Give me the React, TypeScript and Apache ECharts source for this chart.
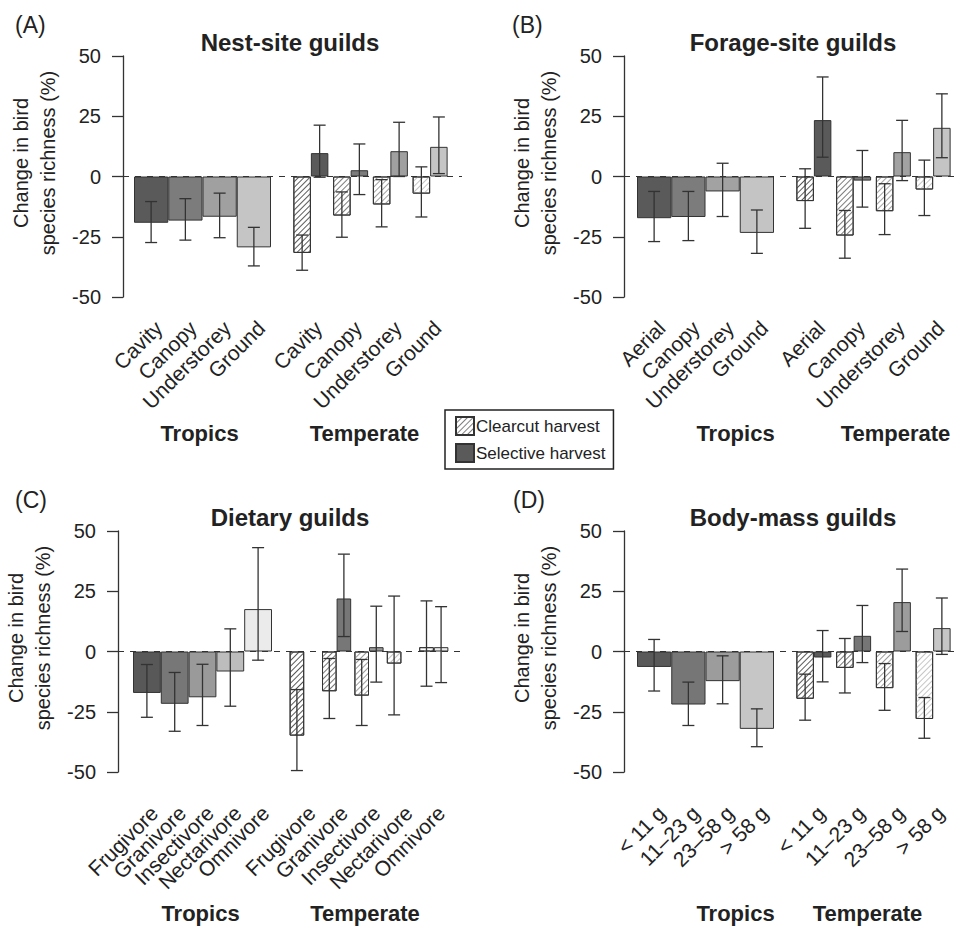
import React, { useEffect, useRef } from 'react';
import * as echarts from 'echarts';

const FONT = '"Liberation Sans", Arial, Helvetica, sans-serif';

// ---------- Data ----------
const yTicks = [-50, -25, 0, 25, 50];
const groupNames = ['Tropics', 'Temperate'];
const legendNames = ['Clearcut harvest', 'Selective harvest'];

// (A) Nest-site guilds
const nestCats = ['Cavity', 'Canopy', 'Understorey', 'Ground'];
const nestColors = ['#5a5a5a', '#7c7c7c', '#a0a0a0', '#c5c5c5'];
const nestTropics = [-19.2, -18.3, -16.7, -29.4];
const nestTropicsLo = [-27.4, -26.4, -25.4, -37.1];
const nestTropicsHi = [-10.4, -9.2, -6.9, -21.1];
const nestClear = [-31.7, -16.2, -11.6, -7.1];
const nestClearLo = [-38.9, -25.2, -20.9, -16.8];
const nestClearHi = [-24.3, -6.4, -1.3, 4.0];
const nestSel = [9.7, 2.6, 10.5, 12.3];
const nestSelLo = [-0.3, -7.5, 0.0, 1.2];
const nestSelHi = [21.3, 13.5, 22.5, 24.7];

// (B) Forage-site guilds
const forageCats = ['Aerial', 'Canopy', 'Understorey', 'Ground'];
const forageColors = ['#5a5a5a', '#7c7c7c', '#a2a2a2', '#c4c4c4'];
const forageTropics = [-17.3, -16.8, -6.2, -23.4];
const forageTropicsLo = [-27.0, -26.6, -16.6, -31.9];
const forageTropicsHi = [-6.2, -6.2, 5.5, -13.9];
const forageClear = [-10.2, -24.5, -14.4, -5.4];
const forageClearLo = [-21.5, -33.9, -24.1, -16.2];
const forageClearHi = [3.2, -14.1, -3.0, 6.8];
const forageSel = [23.4, -1.7, 10.1, 20.2];
const forageSelLo = [8.0, -12.7, -1.7, 7.8];
const forageSelHi = [41.3, 10.8, 23.3, 34.3];

// (C) Dietary guilds
const dietCats = ['Frugivore', 'Granivore', 'Insectivore', 'Nectarivore', 'Omnivore'];
const dietColors = ['#585858', '#777777', '#9a9a9a', '#bdbdbd', '#ebebeb'];
const dietTropics = [-17.2, -21.7, -19.0, -8.3, 17.6];
const dietTropicsLo = [-27.3, -33.1, -30.7, -22.7, -3.6];
const dietTropicsHi = [-5.4, -8.7, -5.3, 9.4, 43.1];
const dietClear = [-34.9, -16.5, -18.3, -5.0, 1.8];
const dietClearLo = [-49.4, -27.8, -30.7, -26.3, -14.4];
const dietClearHi = [-15.8, -2.9, -3.3, 23.0, 21.0];
const dietSel = [null, 22.0, 1.8, null, 1.8];
const dietSelLo = [null, 6.2, -12.7, null, -12.9];
const dietSelHi = [null, 40.4, 18.8, null, 18.6];

// (D) Body-mass guilds
const massCats = ['< 11 g', '11\u201323 g', '23\u201358 g', '> 58 g'];
const massColors = ['#5a5a5a', '#767676', '#9c9c9c', '#c6c6c6'];
const massTropics = [-6.4, -22.0, -12.3, -32.1];
const massTropicsLo = [-16.4, -30.7, -21.7, -39.5];
const massTropicsHi = [5.0, -12.7, -1.8, -23.8];
const massClear = [-19.6, -6.8, -15.2, -28.0];
const massClearLo = [-28.5, -17.2, -24.4, -36.0];
const massClearHi = [-9.4, 5.4, -5.0, -19.1];
const massSel = [-2.5, 6.5, 20.5, 9.7];
const massSelLo = [-12.6, -4.6, 8.3, -1.2];
const massSelHi = [8.7, 19.1, 34.2, 22.2];

// ---------- Panels ----------
const panels = [
  { letter: '(A)', title: 'Nest-site guilds', cats: nestCats, colors: nestColors,
    trop: nestTropics, tropLo: nestTropicsLo, tropHi: nestTropicsHi,
    clear: nestClear, clearLo: nestClearLo, clearHi: nestClearHi,
    sel: nestSel, selLo: nestSelLo, selHi: nestSelHi },
  { letter: '(B)', title: 'Forage-site guilds', cats: forageCats, colors: forageColors,
    trop: forageTropics, tropLo: forageTropicsLo, tropHi: forageTropicsHi,
    clear: forageClear, clearLo: forageClearLo, clearHi: forageClearHi,
    sel: forageSel, selLo: forageSelLo, selHi: forageSelHi },
  { letter: '(C)', title: 'Dietary guilds', cats: dietCats, colors: dietColors,
    trop: dietTropics, tropLo: dietTropicsLo, tropHi: dietTropicsHi,
    clear: dietClear, clearLo: dietClearLo, clearHi: dietClearHi,
    sel: dietSel, selLo: dietSelLo, selHi: dietSelHi },
  { letter: '(D)', title: 'Body-mass guilds', cats: massCats, colors: massColors,
    trop: massTropics, tropLo: massTropicsLo, tropHi: massTropicsHi,
    clear: massClear, clearLo: massClearLo, clearHi: massClearHi,
    sel: massSel, selLo: massSelLo, selHi: massSelHi },
];

// ---------- Layout (pixels) ----------
const layouts = [
  { axisX: 123, top: 56, frameW: 339, tropL: 134, tropW: 137, tempL: 291, tempW: 159, pairGap: 0.12,
    letterX: 15, titleX: 290, labelMargin: 20, nameGap: 125, tropShift: -3, tempShift: -6 },
  { axisX: 624, top: 56, frameW: 330, tropL: 637, tropW: 137, tempL: 794, tempW: 159, pairGap: 0.12,
    letterX: 512, titleX: 793, labelMargin: 20, nameGap: 125, tropShift: 30, tempShift: 22 },
  { axisX: 118, top: 531, frameW: 342, tropL: 133, tropW: 139, tempL: 288, tempW: 162, pairGap: 0.1,
    letterX: 15, titleX: 290, labelMargin: 30, nameGap: 130, tropShift: -2, tempShift: -4 },
  { axisX: 624, top: 531, frameW: 330, tropL: 637, tropW: 137, tempL: 794, tempW: 159, pairGap: 0.12,
    letterX: 513, titleX: 793, labelMargin: 30, nameGap: 130, tropShift: 30, tempShift: -6 },
];
const PLOT_H = 241;

const hatch = (c: string) => ({
  symbol: 'rect',
  symbolSize: 1,
  dashArrayX: [1, 0],
  dashArrayY: [1, 3],
  rotation: -Math.PI / 4,
  color: c,
});

const makeErr = (gapFrac: number) => (params: any, api: any) => {
  const ci = api.value(0);
  const lo = api.value(1);
  const hi = api.value(2);
  const side = api.value(3);
  const band = api.size([1, 0])[0];
  let off = 0;
  if (side === 0 || side === 1) {
    const bw = (band * (1 - gapFrac)) / 2;
    off = side === 0 ? -bw / 2 : bw / 2;
  }
  const a = api.coord([ci, hi]);
  const b = api.coord([ci, lo]);
  const x = a[0] + off;
  const st = { stroke: '#333', lineWidth: 1.3 };
  return {
    type: 'group',
    children: [
      { type: 'line', shape: { x1: x, y1: a[1], x2: x, y2: b[1] }, style: st },
      { type: 'line', shape: { x1: x - 6, y1: a[1], x2: x + 6, y2: a[1] }, style: st },
      { type: 'line', shape: { x1: x - 6, y1: b[1], x2: x + 6, y2: b[1] }, style: st },
    ],
  };
};

function buildOption() {
  const grid: any[] = [];
  const xAxis: any[] = [];
  const yAxis: any[] = [];
  const series: any[] = [];
  const title: any[] = [];
  const graphic: any[] = [];

  const catLabel = (margin: number) => ({
    rotate: 45,
    interval: 0,
    fontSize: 21,
    color: '#222',
    fontFamily: FONT,
    margin,
    align: 'right',
    verticalAlign: 'top',
  });
  const groupName = (shift: number) => ({
    fontSize: 22,
    fontWeight: 'bold',
    color: '#222',
    fontFamily: FONT,
    padding: shift >= 0 ? [0, 0, 0, 2 * shift] : [0, -2 * shift, 0, 0],
  });

  panels.forEach((p, k) => {
    const L = layouts[k];
    const g0 = grid.length;

    // frame grid: y axis + zero line
    grid.push({ left: L.axisX, top: L.top, width: L.frameW, height: PLOT_H });
    xAxis.push({ gridIndex: g0, type: 'value', min: 0, max: 1, show: false });
    yAxis.push({
      gridIndex: g0, type: 'value', min: yTicks[0], max: yTicks[yTicks.length - 1], interval: 25,
      axisLine: { show: true, lineStyle: { color: '#333', width: 1.3 } },
      axisTick: { show: true, length: 11, lineStyle: { color: '#333', width: 1.3 } },
      axisLabel: { fontSize: 20, color: '#222', fontFamily: FONT, margin: 22 },
      splitLine: { show: false },
    });
    series.push({
      type: 'line', xAxisIndex: g0, yAxisIndex: g0, data: [[0, 0], [1, 0]],
      symbol: 'none', silent: true, z: 1,
      lineStyle: { type: [6, 6], color: '#333', width: 1.2 },
    });

    // tropics grid
    const g1 = g0 + 1;
    grid.push({ left: L.tropL, top: L.top, width: L.tropW, height: PLOT_H });
    xAxis.push({
      gridIndex: g1, type: 'category', data: p.cats,
      axisLine: { show: false }, axisTick: { show: false },
      axisLabel: catLabel(L.labelMargin),
      name: groupNames[0], nameLocation: 'middle', nameGap: L.nameGap,
      nameTextStyle: groupName(L.tropShift),
    });
    yAxis.push({ gridIndex: g1, type: 'value', min: -50, max: 50, show: false });
    series.push({
      type: 'bar', name: 'trop' + k, xAxisIndex: g1, yAxisIndex: g1,
      barCategoryGap: '0%', z: 2,
      itemStyle: { borderColor: '#333', borderWidth: 1 },
      data: p.trop.map((v, i) => ({ value: v, itemStyle: { color: p.colors[i] } })),
    });
    series.push({
      type: 'custom', name: 'tropErr' + k, xAxisIndex: g1, yAxisIndex: g1, z: 4,
      renderItem: makeErr(0),
      encode: { x: 0, y: [1, 2] },
      data: p.trop.map((_, i) => [i, p.tropLo[i], p.tropHi[i], -1]),
    });

    // temperate grid
    const g2 = g0 + 2;
    const gapPct = Math.round(L.pairGap * 100) + '%';
    grid.push({ left: L.tempL, top: L.top, width: L.tempW, height: PLOT_H });
    xAxis.push({
      gridIndex: g2, type: 'category', data: p.cats,
      axisLine: { show: false }, axisTick: { show: false },
      axisLabel: catLabel(L.labelMargin),
      name: groupNames[1], nameLocation: 'middle', nameGap: L.nameGap,
      nameTextStyle: groupName(L.tempShift),
    });
    yAxis.push({ gridIndex: g2, type: 'value', min: -50, max: 50, show: false });
    series.push({
      type: 'bar', name: 'clear' + k, xAxisIndex: g2, yAxisIndex: g2,
      barGap: '0%', barCategoryGap: gapPct, z: 2,
      itemStyle: { borderColor: '#333', borderWidth: 1 },
      data: p.clear.map((v, i) => (v === null ? '-' : {
        value: v, itemStyle: { color: '#ffffff', decal: hatch(p.colors[i]) },
      })),
    });
    series.push({
      type: 'bar', name: 'sel' + k, xAxisIndex: g2, yAxisIndex: g2,
      barGap: '0%', barCategoryGap: gapPct, z: 2,
      itemStyle: { borderColor: '#333', borderWidth: 1 },
      data: p.sel.map((v, i) => (v === null ? '-' : { value: v, itemStyle: { color: p.colors[i] } })),
    });
    const errData: any[] = [];
    p.clear.forEach((v, i) => { if (v !== null) errData.push([i, p.clearLo[i], p.clearHi[i], 0]); });
    p.sel.forEach((v, i) => { if (v !== null) errData.push([i, p.selLo[i], p.selHi[i], 1]); });
    series.push({
      type: 'custom', name: 'tempErr' + k, xAxisIndex: g2, yAxisIndex: g2, z: 4,
      renderItem: makeErr(L.pairGap),
      encode: { x: 0, y: [1, 2] },
      data: errData,
    });

    // titles
    title.push({
      text: p.letter, left: L.letterX, top: L.top - 43, padding: 0,
      textStyle: { fontSize: 23, fontWeight: 'normal', color: '#222', fontFamily: FONT },
    });
    title.push({
      text: p.title, left: L.titleX, top: L.top - 26, textAlign: 'center', padding: 0,
      textStyle: { fontSize: 24, fontWeight: 'bold', color: '#222', fontFamily: FONT },
    });
    // y axis name
    graphic.push({
      type: 'text', x: L.axisX - 88.5, y: L.top + 107, rotation: Math.PI / 2,
      style: {
        text: 'Change in bird\nspecies richness (%)',
        font: '20px ' + FONT, fill: '#222', align: 'center', verticalAlign: 'middle', lineHeight: 27,
      },
    });
  });

  // hidden grid for legend proxy series
  const gl = grid.length;
  grid.push({ left: 0, top: 0, width: 1, height: 1, show: false });
  xAxis.push({ gridIndex: gl, type: 'category', data: ['x'], show: false });
  yAxis.push({ gridIndex: gl, type: 'value', show: false });
  series.push({
    type: 'bar', name: legendNames[0], xAxisIndex: gl, yAxisIndex: gl, data: [],
    itemStyle: { color: '#ffffff', borderColor: '#333', borderWidth: 1, decal: hatch('#808080') },
  });
  series.push({
    type: 'bar', name: legendNames[1], xAxisIndex: gl, yAxisIndex: gl, data: [],
    itemStyle: { color: '#5a5a5a', borderColor: '#333', borderWidth: 1 },
  });

  return {
    animation: false,
    backgroundColor: '#ffffff',
    textStyle: { fontFamily: FONT },
    title,
    grid,
    xAxis,
    yAxis,
    series,
    graphic,
    legend: {
      data: legendNames,
      orient: 'vertical',
      left: 445,
      top: 410,
      icon: 'rect',
      itemWidth: 18,
      itemHeight: 18,
      itemGap: 7,
      padding: [6, 8, 6, 10],
      borderColor: '#222',
      borderWidth: 1.5,
      selectedMode: false,
      textStyle: { fontSize: 17, color: '#222', fontFamily: FONT, padding: [0, 0, 0, -3] },
    },
  };
}

export default function App() {
  const ref = useRef<HTMLDivElement>(null);
  useEffect(() => {
    document.body.style.margin = '0';
    if (!ref.current) return;
    const chart = echarts.init(ref.current, undefined, { renderer: 'svg' });
    chart.setOption(buildOption() as any);
    return () => chart.dispose();
  }, []);
  return <div ref={ref} style={{ width: 954, height: 927 }} />;
}
